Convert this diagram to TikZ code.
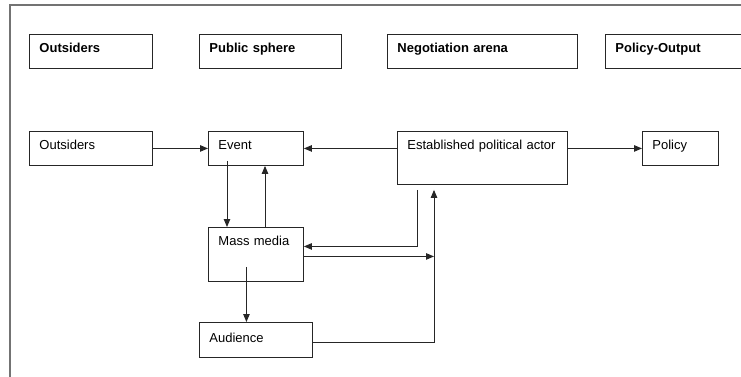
\documentclass[tikz,border=0pt]{standalone}
\usepackage{fontspec}
\setmainfont{Liberation Sans}
\usetikzlibrary{arrows.meta}

\begin{document}
\begin{tikzpicture}[x=1pt, y=1pt, font=\fontsize{13}{15}\selectfont]
  % styles
  \tikzset{
    box/.style={draw=black!85, line width=0.9pt, anchor=north west, inner xsep=10pt,
      inner ysep=0pt, align=left, text height=18.5pt},
    head/.style={box, font=\fontsize{13}{15}\selectfont\bfseries},
    frame/.style={draw=black!55, line width=1.1pt},
    arr/.style={draw=black!85, line width=0.9pt, -{Triangle[length=8pt, width=6.5pt]}}
  }

  \useasboundingbox (0,0) rectangle (741,376);
  \clip (0,0) rectangle (741,376);

  % outer frame (runs off the page right and below)
  \draw[frame] (10,-10) |- (760,371);

  % column headings
  \node[head, text width=103pt, text depth=15.5pt] (hOut) at (29,342) {Outsiders};
  \node[head, text width=122pt, text depth=15.5pt] (hPub) at (199,342) {Public sphere};
  \node[head, text width=170pt, text depth=15.5pt] (hNeg) at (387,342) {Negotiation arena};
  \node[head, text width=130pt, text depth=15.5pt] (hPol) at (605,342) {Policy-Output};

  % boxes
  \node[box, text width=103pt, text depth=15.5pt] (outs) at (29,245) {Outsiders};
  \node[box, text width=75pt, text depth=15.5pt] (event) at (208,245) {Event};
  \node[box, text width=150pt, text depth=34.5pt] (epa) at (397,245) {Established political actor};
  \node[box, text width=56pt, text depth=15.5pt] (policy) at (642,245) {Policy};
  \node[box, text width=75pt, text depth=35.5pt] (media) at (208,149) {Mass media};
  \node[box, text width=93pt, text height=20pt, text depth=15pt] (audience) at (199,54) {Audience};

  % joint below the actor box
  \coordinate (rise) at ([xshift=37pt, yshift=-5pt]epa.south west);

  % connectors
  \draw[arr] (outs) -- (event);
  \draw[arr] (epa.west |- event) -- (event);
  \draw[arr] (epa.east |- policy) -- (policy);
  \draw[arr] ([xshift=19pt, yshift=5pt]event.south west) -- ([xshift=19pt]media.north west);
  \draw[arr] ([xshift=57pt]media.north west) -- ([xshift=57pt]event.south west);
  \draw[arr] ([xshift=-9.5pt, yshift=15pt]media.south) -- ([xshift=-9.5pt]audience.north);
  \draw[arr] ([xshift=20pt, yshift=-5pt]epa.south west) |- ([yshift=8pt]media.east);
  \coordinate (mo) at ([yshift=-2pt]media.east);
  \draw[arr] (mo) -- (mo -| rise);
  \draw[arr] ([yshift=-2.5pt]audience.east) -| (rise);
\end{tikzpicture}
\end{document}
